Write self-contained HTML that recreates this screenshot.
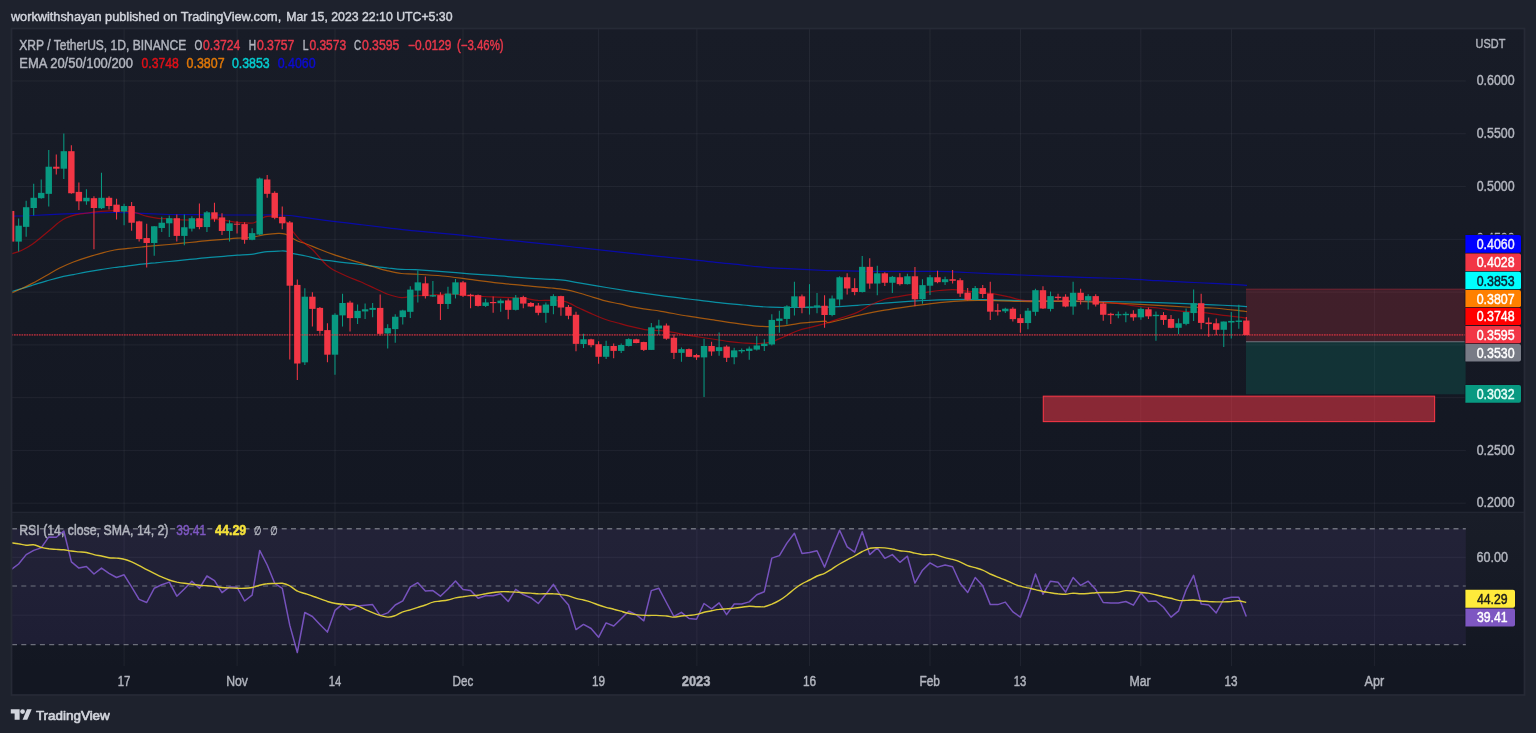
<!DOCTYPE html>
<html lang="en"><head><meta charset="utf-8"><title>XRP / TetherUS chart</title>
<style>html,body{margin:0;padding:0;background:#1e222d;overflow:hidden}svg text{white-space:pre}</style></head>
<body>
<svg width="1536" height="733" viewBox="0 0 1536 733" style="display:block;will-change:transform">
<defs>
<linearGradient id="g1" x1="0" y1="0" x2="0" y2="1"><stop offset="0" stop-color="#181c27"/><stop offset="1" stop-color="#131722"/></linearGradient>
<linearGradient id="g2" x1="0" y1="0" x2="0" y2="1"><stop offset="0" stop-color="#191d28"/><stop offset="1" stop-color="#131722"/></linearGradient>
<clipPath id="cpMain"><rect x="11.5" y="29" width="1454.3" height="483"/></clipPath>
<clipPath id="cpRsi"><rect x="11.5" y="513" width="1454.3" height="153"/></clipPath>
</defs>
<rect width="1536" height="733" fill="#1e222d"/>
<rect x="11.5" y="28.5" width="1513.0" height="483.70000000000005" fill="url(#g1)"/>
<rect x="11.5" y="512.2" width="1513.0" height="153.79999999999995" fill="url(#g2)"/>
<rect x="11.5" y="666.0" width="1513.0" height="29.0" fill="#131722"/>
<line x1="124.1" y1="28.5" x2="124.1" y2="666.0" stroke="#f0f3fa" stroke-opacity="0.058" stroke-width="1"/>
<line x1="237.1" y1="28.5" x2="237.1" y2="666.0" stroke="#f0f3fa" stroke-opacity="0.058" stroke-width="1"/>
<line x1="335.0" y1="28.5" x2="335.0" y2="666.0" stroke="#f0f3fa" stroke-opacity="0.058" stroke-width="1"/>
<line x1="463.0" y1="28.5" x2="463.0" y2="666.0" stroke="#f0f3fa" stroke-opacity="0.058" stroke-width="1"/>
<line x1="598.6" y1="28.5" x2="598.6" y2="666.0" stroke="#f0f3fa" stroke-opacity="0.058" stroke-width="1"/>
<line x1="696.9" y1="28.5" x2="696.9" y2="666.0" stroke="#f0f3fa" stroke-opacity="0.058" stroke-width="1"/>
<line x1="809.5" y1="28.5" x2="809.5" y2="666.0" stroke="#f0f3fa" stroke-opacity="0.058" stroke-width="1"/>
<line x1="930.0" y1="28.5" x2="930.0" y2="666.0" stroke="#f0f3fa" stroke-opacity="0.058" stroke-width="1"/>
<line x1="1020.5" y1="28.5" x2="1020.5" y2="666.0" stroke="#f0f3fa" stroke-opacity="0.058" stroke-width="1"/>
<line x1="1140.8" y1="28.5" x2="1140.8" y2="666.0" stroke="#f0f3fa" stroke-opacity="0.058" stroke-width="1"/>
<line x1="1231.5" y1="28.5" x2="1231.5" y2="666.0" stroke="#f0f3fa" stroke-opacity="0.058" stroke-width="1"/>
<line x1="1374.4" y1="28.5" x2="1374.4" y2="666.0" stroke="#f0f3fa" stroke-opacity="0.058" stroke-width="1"/>
<line x1="11.5" y1="80.97" x2="1465.8" y2="80.97" stroke="#f0f3fa" stroke-opacity="0.058" stroke-width="1"/>
<line x1="11.5" y1="133.75" x2="1465.8" y2="133.75" stroke="#f0f3fa" stroke-opacity="0.058" stroke-width="1"/>
<line x1="11.5" y1="186.53" x2="1465.8" y2="186.53" stroke="#f0f3fa" stroke-opacity="0.058" stroke-width="1"/>
<line x1="11.5" y1="239.31" x2="1465.8" y2="239.31" stroke="#f0f3fa" stroke-opacity="0.058" stroke-width="1"/>
<line x1="11.5" y1="292.09" x2="1465.8" y2="292.09" stroke="#f0f3fa" stroke-opacity="0.058" stroke-width="1"/>
<line x1="11.5" y1="344.87" x2="1465.8" y2="344.87" stroke="#f0f3fa" stroke-opacity="0.058" stroke-width="1"/>
<line x1="11.5" y1="397.65" x2="1465.8" y2="397.65" stroke="#f0f3fa" stroke-opacity="0.058" stroke-width="1"/>
<line x1="11.5" y1="450.43" x2="1465.8" y2="450.43" stroke="#f0f3fa" stroke-opacity="0.058" stroke-width="1"/>
<line x1="11.5" y1="503.21" x2="1465.8" y2="503.21" stroke="#f0f3fa" stroke-opacity="0.058" stroke-width="1"/>
<rect x="11.5" y="528.7" width="1454.3" height="115.89999999999998" fill="#7e57c2" fill-opacity="0.105"/>
<line x1="11.5" y1="557.3" x2="1465.8" y2="557.3" stroke="#f0f3fa" stroke-opacity="0.058" stroke-width="1"/>
<line x1="11.5" y1="615.2" x2="1465.8" y2="615.2" stroke="#f0f3fa" stroke-opacity="0.058" stroke-width="1"/>
<line x1="12.0" y1="528.7" x2="1465.8" y2="528.7" stroke="#9598a1" stroke-opacity="0.68" stroke-width="1.4" stroke-dasharray="5 4.3"/>
<line x1="12.0" y1="586.0" x2="1465.8" y2="586.0" stroke="#9598a1" stroke-opacity="0.45" stroke-width="1.4" stroke-dasharray="5 4.3"/>
<line x1="12.0" y1="644.6" x2="1465.8" y2="644.6" stroke="#9598a1" stroke-opacity="0.68" stroke-width="1.4" stroke-dasharray="5 4.3"/>
<line x1="11.5" y1="512.2" x2="1524.5" y2="512.2" stroke="#262a36" stroke-width="1.1"/>
<g clip-path="url(#cpMain)">
<rect x="1246.0" y="289.13" width="219.80" height="52.57" fill="#f23645" fill-opacity="0.2"/>
<rect x="1246.0" y="341.70" width="219.80" height="52.57" fill="#089981" fill-opacity="0.2"/>
<line x1="1246.0" y1="289.13" x2="1465.8" y2="289.13" stroke="#f23645" stroke-opacity="0.35" stroke-width="1"/>
<line x1="1246.0" y1="341.70" x2="1465.8" y2="341.70" stroke="#787b86" stroke-opacity="0.9" stroke-width="1.15"/>
<rect x="1043.3" y="396.2" width="391.3" height="25.4" fill="#f23645" fill-opacity="0.53" stroke="#f23645" stroke-width="1.1"/>
<path d="M13.2,216.1C16.4,216.0 24.6,215.9 32.3,215.5C40.1,215.2 50.6,214.6 59.7,214.2C68.8,213.8 77.9,213.4 87.0,213.1C96.1,212.8 105.3,212.5 114.4,212.5C123.5,212.6 132.6,213.0 141.7,213.4C150.8,213.7 159.9,214.2 169.1,214.5C178.2,214.7 187.3,214.6 196.4,214.7C205.5,214.8 214.6,215.0 223.8,215.0C232.9,215.0 242.0,215.0 251.1,215.0C260.2,215.0 272.1,214.9 278.4,215.0C284.8,215.1 284.8,215.1 289.4,215.5C293.9,216.0 298.5,216.8 305.8,217.7C313.1,218.7 324.0,220.1 333.1,221.3C342.2,222.4 351.4,223.5 360.5,224.6C369.6,225.7 378.7,226.8 387.8,227.9C396.9,228.9 406.0,230.0 415.1,230.9C424.2,231.8 433.2,232.5 442.3,233.4C451.4,234.2 460.6,235.1 469.7,236.1C478.8,237.1 487.9,238.1 497.0,239.1C506.1,240.1 515.3,240.9 524.4,241.8C533.5,242.7 542.6,243.6 551.7,244.6C560.8,245.5 569.9,246.6 579.1,247.6C588.2,248.6 597.3,249.6 606.4,250.6C615.5,251.6 624.6,252.6 633.8,253.6C642.9,254.6 652.0,255.6 661.1,256.6C670.2,257.6 679.3,258.4 688.4,259.3C697.6,260.3 706.7,261.4 715.8,262.3C724.9,263.3 736.3,264.3 743.1,265.1C750.0,265.8 752.2,266.3 756.8,266.7C761.4,267.2 763.6,267.4 770.5,267.8C777.3,268.2 788.7,268.7 797.8,269.2C806.9,269.6 819.8,270.3 825.2,270.5C830.5,270.8 824.6,270.5 830.0,270.6C835.4,270.7 848.2,271.0 857.3,271.1C866.5,271.3 875.6,271.4 884.7,271.4C893.8,271.5 902.9,271.4 912.0,271.4C921.1,271.4 930.3,271.2 939.4,271.4C948.5,271.6 957.6,272.1 966.7,272.5C975.8,272.9 984.9,273.5 994.1,273.9C1003.2,274.3 1012.3,274.6 1021.4,275.0C1030.5,275.3 1039.6,275.7 1048.8,276.1C1057.9,276.4 1067.0,276.8 1076.1,277.1C1085.2,277.5 1094.3,277.6 1103.4,278.0C1112.6,278.3 1121.7,278.6 1130.8,279.1C1139.9,279.5 1149.0,280.2 1158.1,280.7C1167.2,281.2 1176.4,281.6 1185.5,282.1C1194.6,282.5 1203.7,283.0 1212.8,283.4C1221.9,283.9 1234.5,284.5 1240.2,284.8C1245.9,285.1 1245.9,285.3 1247.0,285.4" fill="none" stroke="#0000ff" stroke-opacity="0.6" stroke-width="1.2" stroke-linejoin="round"/>
<path d="M11.8,291.6C13.4,291.1 18.0,289.6 21.4,288.6C24.8,287.5 28.2,286.5 32.3,285.3C36.4,284.0 41.5,282.5 46.0,281.2C50.6,279.9 55.1,278.4 59.7,277.3C64.2,276.2 68.8,275.5 73.4,274.6C77.9,273.7 82.5,272.7 87.0,271.9C91.6,271.1 96.1,270.4 100.7,269.7C105.3,269.0 109.8,268.1 114.4,267.5C118.9,266.9 123.5,266.4 128.0,265.9C132.6,265.3 137.2,264.7 141.7,264.2C146.3,263.7 150.8,263.3 155.4,262.9C159.9,262.4 164.5,261.9 169.1,261.5C173.6,261.0 178.2,260.6 182.7,260.1C187.3,259.7 191.8,259.2 196.4,258.8C201.0,258.3 205.5,257.8 210.1,257.4C214.6,257.0 219.2,256.7 223.8,256.3C228.3,255.9 232.9,255.5 237.4,255.2C242.0,254.9 246.5,254.9 251.1,254.4C255.7,253.8 260.2,252.5 264.8,251.9C269.3,251.4 275.0,251.2 278.4,251.1C281.9,251.0 283.0,250.7 285.3,251.1C287.6,251.5 288.7,252.5 292.1,253.3C295.5,254.1 301.2,255.0 305.8,256.0C310.3,257.0 314.9,258.4 319.5,259.3C324.0,260.2 328.6,260.6 333.1,261.2C337.7,261.8 342.2,262.3 346.8,262.9C351.4,263.4 355.9,263.9 360.5,264.5C365.0,265.1 369.6,265.8 374.1,266.4C378.7,267.0 383.3,267.5 387.8,268.0C392.4,268.5 396.9,269.1 401.5,269.4C406.0,269.7 408.3,269.3 415.1,269.7C421.9,270.1 433.2,271.0 442.3,271.6C451.4,272.3 460.6,273.1 469.7,273.8C478.8,274.5 487.9,275.1 497.0,275.7C506.1,276.4 515.3,277.3 524.4,277.9C533.5,278.5 544.9,278.9 551.7,279.3C558.6,279.7 560.8,279.8 565.4,280.4C569.9,281.0 572.2,281.7 579.1,282.9C585.9,284.0 597.3,286.0 606.4,287.5C615.5,289.0 624.6,290.5 633.8,291.9C642.9,293.2 652.0,294.5 661.1,295.7C670.2,296.9 679.3,297.9 688.4,299.0C697.6,300.1 706.7,301.3 715.8,302.3C724.9,303.3 736.3,304.3 743.1,305.0C750.0,305.7 752.2,306.0 756.8,306.4C761.4,306.7 765.9,307.0 770.5,307.2C775.0,307.4 779.6,307.4 784.1,307.5C788.7,307.5 793.3,307.5 797.8,307.5C802.4,307.4 806.9,307.3 811.5,307.2C816.0,307.1 822.1,307.0 825.2,306.9C828.2,306.9 824.6,307.2 830.0,307.0C835.4,306.7 848.2,306.0 857.3,305.3C866.5,304.7 875.6,303.8 884.7,303.1C893.8,302.4 902.9,301.8 912.0,301.2C921.1,300.7 930.3,300.2 939.4,299.8C948.5,299.5 957.6,299.3 966.7,299.3C975.8,299.3 984.9,299.6 994.1,299.8C1003.2,300.1 1012.3,300.5 1021.4,300.7C1030.5,300.8 1039.6,300.8 1048.8,300.9C1057.9,301.0 1067.0,301.1 1076.1,301.2C1085.2,301.3 1094.3,301.3 1103.4,301.5C1112.6,301.6 1121.7,301.8 1130.8,302.0C1139.9,302.2 1149.0,302.3 1158.1,302.6C1167.2,302.9 1176.4,303.3 1185.5,303.7C1194.6,304.0 1203.7,304.4 1212.8,304.8C1221.9,305.2 1234.5,305.8 1240.2,306.1C1245.9,306.5 1245.9,306.6 1247.0,306.7" fill="none" stroke="#00e5ff" stroke-opacity="0.58" stroke-width="1.2" stroke-linejoin="round"/>
<path d="M11.8,292.9C13.4,292.2 18.0,290.4 21.4,288.8C24.8,287.2 28.2,285.5 32.3,283.4C36.4,281.2 41.5,278.3 46.0,275.7C50.6,273.2 55.1,270.3 59.7,268.0C64.2,265.8 68.8,263.8 73.4,262.0C77.9,260.3 82.5,258.8 87.0,257.4C91.6,255.9 96.1,254.5 100.7,253.3C105.3,252.1 109.8,250.8 114.4,250.0C118.9,249.2 123.5,248.9 128.0,248.4C132.6,247.9 137.2,247.4 141.7,247.0C146.3,246.5 150.8,246.0 155.4,245.6C159.9,245.2 164.5,244.9 169.1,244.5C173.6,244.1 178.2,243.6 182.7,243.2C187.3,242.7 191.8,242.3 196.4,241.8C201.0,241.3 205.5,240.8 210.1,240.4C214.6,240.0 219.2,239.7 223.8,239.3C228.3,239.0 232.9,238.6 237.4,238.2C242.0,237.9 246.5,238.0 251.1,237.4C255.7,236.8 260.2,235.4 264.8,234.7C269.3,234.0 275.0,233.4 278.4,233.3C281.9,233.2 283.0,233.4 285.3,234.1C287.6,234.9 289.8,236.7 292.1,238.0C294.4,239.2 296.7,240.6 298.9,241.5C301.2,242.5 302.4,242.4 305.8,243.7C309.2,245.0 314.9,247.4 319.5,249.2C324.0,251.0 328.6,252.8 333.1,254.4C337.7,256.0 342.2,257.3 346.8,258.8C351.4,260.2 355.9,261.5 360.5,262.9C365.0,264.2 369.6,265.6 374.1,267.0C378.7,268.3 383.3,269.7 387.8,270.8C392.4,271.9 396.9,273.0 401.5,273.5C406.0,274.1 408.3,273.7 415.1,274.1C421.9,274.5 433.2,275.1 442.3,276.0C451.4,276.9 460.6,278.2 469.7,279.3C478.8,280.4 487.9,281.8 497.0,282.9C506.1,283.9 515.3,284.7 524.4,285.6C533.5,286.5 544.9,287.4 551.7,288.0C558.6,288.7 560.8,288.9 565.4,289.7C569.9,290.5 574.5,291.7 579.1,293.0C583.6,294.2 588.2,295.7 592.7,297.1C597.3,298.4 601.8,300.0 606.4,301.2C611.0,302.3 615.5,302.9 620.1,303.9C624.6,304.9 629.2,306.3 633.8,307.2C638.3,308.1 642.9,308.7 647.4,309.4C652.0,310.1 654.3,310.1 661.1,311.3C667.9,312.4 679.3,314.7 688.4,316.2C697.6,317.7 706.7,318.9 715.8,320.3C724.9,321.7 736.3,323.5 743.1,324.4C750.0,325.4 752.2,325.7 756.8,326.1C761.4,326.4 765.9,326.6 770.5,326.6C775.0,326.6 779.6,326.3 784.1,325.8C788.7,325.3 793.3,324.2 797.8,323.6C802.4,323.0 806.9,322.6 811.5,322.2C816.0,321.8 822.1,321.1 825.2,321.1C828.2,321.2 824.6,323.4 830.0,322.5C835.4,321.6 848.2,317.8 857.3,315.7C866.5,313.7 875.6,311.8 884.7,310.2C893.8,308.6 902.9,307.4 912.0,306.1C921.1,304.9 930.3,303.5 939.4,302.6C948.5,301.7 957.6,301.0 966.7,300.7C975.8,300.3 984.9,300.5 994.1,300.7C1003.2,300.8 1012.3,301.3 1021.4,301.5C1030.5,301.6 1039.6,301.5 1048.8,301.5C1057.9,301.5 1067.0,301.3 1076.1,301.5C1085.2,301.7 1094.3,302.2 1103.4,302.6C1112.6,303.0 1121.7,303.5 1130.8,303.9C1139.9,304.4 1149.0,304.8 1158.1,305.3C1167.2,305.8 1176.4,306.5 1185.5,307.0C1194.6,307.4 1203.7,307.4 1212.8,308.0C1221.9,308.7 1234.5,310.2 1240.2,310.8C1245.9,311.4 1245.9,311.5 1247.0,311.6" fill="none" stroke="#ff8000" stroke-opacity="0.6" stroke-width="1.2" stroke-linejoin="round"/>
<path d="M11.8,253.8C13.4,253.3 18.0,252.1 21.4,250.5C24.8,249.0 28.2,247.1 32.3,244.3C36.4,241.4 41.5,237.1 46.0,233.3C50.6,229.6 56.3,224.4 59.7,221.8C63.1,219.2 63.8,218.9 66.5,217.7C69.3,216.5 72.7,215.5 76.1,214.7C79.5,214.0 82.9,213.6 87.0,213.1C91.1,212.5 96.1,211.9 100.7,211.4C105.3,211.0 109.8,210.6 114.4,210.6C118.9,210.6 124.4,211.1 128.0,211.4C131.7,211.8 133.1,212.0 136.2,212.8C139.4,213.6 143.5,215.5 147.2,216.4C150.8,217.3 154.5,217.9 158.1,218.3C161.8,218.7 165.0,218.6 169.1,218.8C173.2,219.1 178.2,219.7 182.7,219.9C187.3,220.1 191.8,220.3 196.4,220.2C201.0,220.1 205.5,219.1 210.1,219.1C214.6,219.1 219.2,219.6 223.8,220.2C228.3,220.7 232.9,221.9 237.4,222.4C242.0,222.9 247.9,223.3 251.1,223.2C254.3,223.1 254.3,222.6 256.6,221.6C258.8,220.5 262.3,217.8 264.8,216.9C267.3,216.0 269.3,216.0 271.6,216.1C273.9,216.2 276.2,216.9 278.4,217.7C280.7,218.6 283.0,218.9 285.3,221.0C287.6,223.2 289.8,227.6 292.1,230.6C294.4,233.5 296.7,236.5 298.9,238.8C301.2,241.1 303.5,242.4 305.8,244.3C308.1,246.1 310.3,247.5 312.6,249.7C314.9,251.9 317.2,254.9 319.5,257.4C321.7,259.9 324.0,262.7 326.3,264.8C328.6,266.8 329.7,267.8 333.1,269.7C336.5,271.6 342.2,274.2 346.8,276.2C351.4,278.3 355.9,279.8 360.5,281.7C365.0,283.7 369.6,285.9 374.1,288.0C378.7,290.1 383.3,292.7 387.8,294.3C392.4,295.9 396.9,297.3 401.5,297.6C406.0,297.8 410.5,296.2 415.1,295.8C419.6,295.4 424.1,295.4 428.7,295.2C433.2,294.9 437.8,294.5 442.3,294.3C446.9,294.2 451.5,294.1 456.0,294.3C460.6,294.6 465.1,295.3 469.7,295.7C474.2,296.1 478.8,296.3 483.4,296.5C487.9,296.8 492.5,296.9 497.0,297.1C501.6,297.3 506.1,297.4 510.7,297.6C515.3,297.8 519.8,298.0 524.4,298.4C528.9,298.9 533.5,300.0 538.0,300.4C542.6,300.7 547.2,300.1 551.7,300.4C556.3,300.6 560.8,300.4 565.4,301.7C569.9,303.0 574.5,305.9 579.1,308.0C583.6,310.1 588.2,312.3 592.7,314.3C597.3,316.3 601.8,318.2 606.4,319.8C611.0,321.3 615.5,322.4 620.1,323.6C624.6,324.8 629.2,326.1 633.8,327.1C638.3,328.2 642.9,329.3 647.4,329.9C652.0,330.5 656.5,330.2 661.1,330.7C665.7,331.2 670.2,331.8 674.8,332.6C679.3,333.4 683.9,334.5 688.4,335.4C693.0,336.2 697.6,336.9 702.1,337.5C706.7,338.2 711.2,338.8 715.8,339.5C720.3,340.1 724.9,341.0 729.5,341.6C734.0,342.2 738.6,342.7 743.1,343.0C747.7,343.3 752.2,343.7 756.8,343.6C761.4,343.4 765.9,343.3 770.5,342.2C775.0,341.0 779.6,338.6 784.1,336.7C788.7,334.8 793.3,332.3 797.8,330.7C802.4,329.1 806.9,328.3 811.5,327.1C816.0,326.0 822.1,324.5 825.2,323.6C828.2,322.7 826.9,322.8 830.0,321.7C833.1,320.6 839.1,318.6 843.7,317.1C848.2,315.5 852.8,314.5 857.3,312.4C861.9,310.4 866.5,307.0 871.0,304.8C875.6,302.6 880.1,300.7 884.7,299.3C889.2,297.9 893.8,297.4 898.4,296.6C902.9,295.7 907.5,295.1 912.0,294.4C916.6,293.7 921.1,293.1 925.7,292.5C930.3,291.8 934.8,291.0 939.4,290.5C943.9,290.1 948.5,289.6 953.0,289.7C957.6,289.8 962.2,290.6 966.7,291.1C971.3,291.5 975.8,292.0 980.4,292.5C984.9,292.9 989.5,293.1 994.1,293.8C998.6,294.5 1003.2,295.5 1007.7,296.6C1012.3,297.6 1016.8,299.4 1021.4,300.1C1026.0,300.8 1030.5,300.6 1035.1,300.7C1039.6,300.8 1044.2,300.7 1048.8,300.7C1053.3,300.7 1057.9,300.7 1062.4,300.7C1067.0,300.7 1071.5,300.6 1076.1,300.7C1080.7,300.8 1085.2,301.0 1089.8,301.2C1094.3,301.4 1098.9,301.7 1103.4,302.0C1108.0,302.4 1112.6,302.9 1117.1,303.4C1121.7,303.9 1126.2,304.7 1130.8,305.3C1135.3,305.9 1139.9,306.5 1144.5,307.0C1149.0,307.4 1153.6,307.5 1158.1,308.0C1162.7,308.6 1167.2,309.6 1171.8,310.2C1176.4,310.8 1180.9,311.3 1185.5,311.6C1190.0,311.9 1194.6,311.8 1199.1,312.1C1203.7,312.5 1208.3,313.2 1212.8,313.8C1217.4,314.4 1221.9,315.2 1226.5,315.7C1231.0,316.2 1236.7,316.6 1240.2,317.1C1243.6,317.5 1245.9,318.2 1247.0,318.4" fill="none" stroke="#ff0000" stroke-opacity="0.52" stroke-width="1.2" stroke-linejoin="round"/>
<line x1="11.10" y1="208.20" x2="11.10" y2="245.94" stroke="#f23645" stroke-width="1.05"/>
<rect x="7.90" y="210.95" width="6.4" height="30.66" fill="#f23645"/>
<line x1="18.63" y1="218.42" x2="18.63" y2="251.44" stroke="#089981" stroke-width="1.05"/>
<rect x="15.43" y="225.69" width="6.4" height="15.92" fill="#089981"/>
<line x1="26.16" y1="200.73" x2="26.16" y2="236.70" stroke="#089981" stroke-width="1.05"/>
<rect x="22.96" y="207.21" width="6.4" height="19.66" fill="#089981"/>
<line x1="33.70" y1="183.63" x2="33.70" y2="215.47" stroke="#089981" stroke-width="1.05"/>
<rect x="30.50" y="197.78" width="6.4" height="10.22" fill="#089981"/>
<line x1="41.23" y1="179.50" x2="41.23" y2="198.76" stroke="#089981" stroke-width="1.05"/>
<rect x="38.03" y="192.86" width="6.4" height="5.31" fill="#089981"/>
<line x1="48.76" y1="150.01" x2="48.76" y2="206.62" stroke="#089981" stroke-width="1.05"/>
<rect x="45.56" y="166.72" width="6.4" height="27.13" fill="#089981"/>
<line x1="56.29" y1="154.54" x2="56.29" y2="174.58" stroke="#f23645" stroke-width="1.05"/>
<rect x="53.09" y="166.72" width="6.4" height="1.97" fill="#f23645"/>
<line x1="63.82" y1="133.50" x2="63.82" y2="179.11" stroke="#089981" stroke-width="1.05"/>
<rect x="60.62" y="151.19" width="6.4" height="17.49" fill="#089981"/>
<line x1="71.36" y1="145.30" x2="71.36" y2="193.85" stroke="#f23645" stroke-width="1.05"/>
<rect x="68.16" y="151.19" width="6.4" height="42.06" fill="#f23645"/>
<line x1="78.89" y1="182.45" x2="78.89" y2="209.97" stroke="#f23645" stroke-width="1.05"/>
<rect x="75.69" y="191.88" width="6.4" height="9.43" fill="#f23645"/>
<line x1="86.42" y1="189.33" x2="86.42" y2="204.66" stroke="#089981" stroke-width="1.05"/>
<rect x="83.22" y="197.78" width="6.4" height="3.54" fill="#089981"/>
<line x1="93.95" y1="196.21" x2="93.95" y2="249.28" stroke="#f23645" stroke-width="1.05"/>
<rect x="90.75" y="198.17" width="6.4" height="9.83" fill="#f23645"/>
<line x1="101.48" y1="172.82" x2="101.48" y2="208.98" stroke="#089981" stroke-width="1.05"/>
<rect x="98.28" y="197.78" width="6.4" height="10.42" fill="#089981"/>
<line x1="109.02" y1="196.21" x2="109.02" y2="209.57" stroke="#f23645" stroke-width="1.05"/>
<rect x="105.82" y="197.78" width="6.4" height="8.26" fill="#f23645"/>
<line x1="116.55" y1="198.76" x2="116.55" y2="219.40" stroke="#f23645" stroke-width="1.05"/>
<rect x="113.35" y="204.66" width="6.4" height="7.27" fill="#f23645"/>
<line x1="124.08" y1="203.68" x2="124.08" y2="225.30" stroke="#089981" stroke-width="1.05"/>
<rect x="120.88" y="206.03" width="6.4" height="5.50" fill="#089981"/>
<line x1="131.61" y1="202.10" x2="131.61" y2="230.80" stroke="#f23645" stroke-width="1.05"/>
<rect x="128.41" y="206.03" width="6.4" height="16.71" fill="#f23645"/>
<line x1="139.14" y1="220.78" x2="139.14" y2="241.61" stroke="#f23645" stroke-width="1.05"/>
<rect x="135.94" y="221.37" width="6.4" height="17.69" fill="#f23645"/>
<line x1="146.68" y1="223.72" x2="146.68" y2="267.56" stroke="#f23645" stroke-width="1.05"/>
<rect x="143.48" y="238.07" width="6.4" height="4.91" fill="#f23645"/>
<line x1="154.21" y1="225.89" x2="154.21" y2="255.76" stroke="#089981" stroke-width="1.05"/>
<rect x="151.01" y="226.28" width="6.4" height="16.71" fill="#089981"/>
<line x1="161.74" y1="216.83" x2="161.74" y2="231.97" stroke="#089981" stroke-width="1.05"/>
<rect x="158.54" y="222.73" width="6.4" height="5.31" fill="#089981"/>
<line x1="169.27" y1="215.45" x2="169.27" y2="237.08" stroke="#089981" stroke-width="1.05"/>
<rect x="166.07" y="218.21" width="6.4" height="5.11" fill="#089981"/>
<line x1="176.80" y1="214.47" x2="176.80" y2="241.40" stroke="#f23645" stroke-width="1.05"/>
<rect x="173.60" y="218.21" width="6.4" height="17.69" fill="#f23645"/>
<line x1="184.34" y1="214.47" x2="184.34" y2="245.33" stroke="#089981" stroke-width="1.05"/>
<rect x="181.14" y="227.25" width="6.4" height="8.65" fill="#089981"/>
<line x1="191.87" y1="216.24" x2="191.87" y2="231.57" stroke="#089981" stroke-width="1.05"/>
<rect x="188.67" y="218.21" width="6.4" height="10.42" fill="#089981"/>
<line x1="199.40" y1="203.46" x2="199.40" y2="229.21" stroke="#f23645" stroke-width="1.05"/>
<rect x="196.20" y="218.21" width="6.4" height="8.85" fill="#f23645"/>
<line x1="206.93" y1="210.93" x2="206.93" y2="231.97" stroke="#089981" stroke-width="1.05"/>
<rect x="203.73" y="212.31" width="6.4" height="14.74" fill="#089981"/>
<line x1="214.46" y1="202.68" x2="214.46" y2="221.74" stroke="#f23645" stroke-width="1.05"/>
<rect x="211.26" y="212.31" width="6.4" height="6.49" fill="#f23645"/>
<line x1="222.00" y1="213.29" x2="222.00" y2="234.91" stroke="#f23645" stroke-width="1.05"/>
<rect x="218.80" y="217.42" width="6.4" height="13.56" fill="#f23645"/>
<line x1="229.53" y1="220.37" x2="229.53" y2="241.40" stroke="#089981" stroke-width="1.05"/>
<rect x="226.33" y="223.32" width="6.4" height="7.67" fill="#089981"/>
<line x1="237.06" y1="221.35" x2="237.06" y2="233.54" stroke="#f23645" stroke-width="1.05"/>
<rect x="233.86" y="223.70" width="6.4" height="1.00" fill="#f23645"/>
<line x1="244.59" y1="222.14" x2="244.59" y2="243.76" stroke="#f23645" stroke-width="1.05"/>
<rect x="241.39" y="224.10" width="6.4" height="15.72" fill="#f23645"/>
<line x1="252.12" y1="228.23" x2="252.12" y2="240.22" stroke="#089981" stroke-width="1.05"/>
<rect x="248.92" y="233.14" width="6.4" height="6.68" fill="#089981"/>
<line x1="259.66" y1="177.52" x2="259.66" y2="235.11" stroke="#089981" stroke-width="1.05"/>
<rect x="256.46" y="178.50" width="6.4" height="56.02" fill="#089981"/>
<line x1="267.19" y1="174.96" x2="267.19" y2="197.76" stroke="#f23645" stroke-width="1.05"/>
<rect x="263.99" y="179.48" width="6.4" height="14.35" fill="#f23645"/>
<line x1="274.72" y1="191.28" x2="274.72" y2="219.19" stroke="#f23645" stroke-width="1.05"/>
<rect x="271.52" y="192.85" width="6.4" height="24.96" fill="#f23645"/>
<line x1="282.25" y1="206.41" x2="282.25" y2="229.21" stroke="#f23645" stroke-width="1.05"/>
<rect x="279.05" y="216.83" width="6.4" height="6.49" fill="#f23645"/>
<line x1="289.78" y1="221.02" x2="289.78" y2="359.59" stroke="#f23645" stroke-width="1.05"/>
<rect x="286.58" y="222.40" width="6.4" height="63.29" fill="#f23645"/>
<line x1="297.32" y1="279.40" x2="297.32" y2="380.04" stroke="#f23645" stroke-width="1.05"/>
<rect x="294.12" y="284.90" width="6.4" height="78.62" fill="#f23645"/>
<line x1="304.85" y1="288.24" x2="304.85" y2="364.90" stroke="#089981" stroke-width="1.05"/>
<rect x="301.65" y="296.70" width="6.4" height="65.65" fill="#089981"/>
<line x1="312.38" y1="292.17" x2="312.38" y2="326.57" stroke="#f23645" stroke-width="1.05"/>
<rect x="309.18" y="296.70" width="6.4" height="12.19" fill="#f23645"/>
<line x1="319.91" y1="306.92" x2="319.91" y2="333.85" stroke="#f23645" stroke-width="1.05"/>
<rect x="316.71" y="307.90" width="6.4" height="23.00" fill="#f23645"/>
<line x1="327.44" y1="323.23" x2="327.44" y2="362.35" stroke="#f23645" stroke-width="1.05"/>
<rect x="324.24" y="330.11" width="6.4" height="24.57" fill="#f23645"/>
<line x1="334.98" y1="313.21" x2="334.98" y2="374.73" stroke="#089981" stroke-width="1.05"/>
<rect x="331.78" y="314.78" width="6.4" height="39.90" fill="#089981"/>
<line x1="342.51" y1="293.75" x2="342.51" y2="326.57" stroke="#089981" stroke-width="1.05"/>
<rect x="339.31" y="302.99" width="6.4" height="12.38" fill="#089981"/>
<line x1="350.04" y1="300.63" x2="350.04" y2="331.49" stroke="#f23645" stroke-width="1.05"/>
<rect x="346.84" y="302.59" width="6.4" height="15.53" fill="#f23645"/>
<line x1="357.57" y1="304.56" x2="357.57" y2="324.02" stroke="#089981" stroke-width="1.05"/>
<rect x="354.37" y="310.85" width="6.4" height="7.27" fill="#089981"/>
<line x1="365.10" y1="303.57" x2="365.10" y2="319.10" stroke="#089981" stroke-width="1.05"/>
<rect x="361.90" y="309.28" width="6.4" height="2.16" fill="#089981"/>
<line x1="372.64" y1="302.99" x2="372.64" y2="317.33" stroke="#089981" stroke-width="1.05"/>
<rect x="369.44" y="307.90" width="6.4" height="1.97" fill="#089981"/>
<line x1="380.17" y1="294.53" x2="380.17" y2="335.42" stroke="#f23645" stroke-width="1.05"/>
<rect x="376.97" y="307.90" width="6.4" height="25.95" fill="#f23645"/>
<line x1="387.70" y1="324.21" x2="387.70" y2="348.59" stroke="#089981" stroke-width="1.05"/>
<rect x="384.50" y="328.14" width="6.4" height="5.31" fill="#089981"/>
<line x1="395.23" y1="314.19" x2="395.23" y2="342.69" stroke="#089981" stroke-width="1.05"/>
<rect x="392.03" y="316.74" width="6.4" height="12.38" fill="#089981"/>
<line x1="402.76" y1="309.86" x2="402.76" y2="324.61" stroke="#089981" stroke-width="1.05"/>
<rect x="399.56" y="310.45" width="6.4" height="6.68" fill="#089981"/>
<line x1="410.30" y1="286.28" x2="410.30" y2="318.12" stroke="#089981" stroke-width="1.05"/>
<rect x="407.10" y="289.62" width="6.4" height="22.21" fill="#089981"/>
<line x1="417.83" y1="270.55" x2="417.83" y2="302.59" stroke="#089981" stroke-width="1.05"/>
<rect x="414.63" y="282.35" width="6.4" height="8.26" fill="#089981"/>
<line x1="425.36" y1="276.45" x2="425.36" y2="298.46" stroke="#f23645" stroke-width="1.05"/>
<rect x="422.16" y="283.33" width="6.4" height="12.78" fill="#f23645"/>
<line x1="432.89" y1="280.97" x2="432.89" y2="297.09" stroke="#089981" stroke-width="1.05"/>
<rect x="429.69" y="295.12" width="6.4" height="1.38" fill="#089981"/>
<line x1="440.42" y1="292.17" x2="440.42" y2="320.09" stroke="#f23645" stroke-width="1.05"/>
<rect x="437.22" y="295.12" width="6.4" height="8.85" fill="#f23645"/>
<line x1="447.96" y1="286.87" x2="447.96" y2="308.88" stroke="#089981" stroke-width="1.05"/>
<rect x="444.76" y="293.55" width="6.4" height="10.42" fill="#089981"/>
<line x1="455.49" y1="279.00" x2="455.49" y2="298.46" stroke="#089981" stroke-width="1.05"/>
<rect x="452.29" y="282.35" width="6.4" height="12.19" fill="#089981"/>
<line x1="463.02" y1="280.97" x2="463.02" y2="297.09" stroke="#f23645" stroke-width="1.05"/>
<rect x="459.82" y="282.35" width="6.4" height="13.37" fill="#f23645"/>
<line x1="470.55" y1="293.75" x2="470.55" y2="308.29" stroke="#f23645" stroke-width="1.05"/>
<rect x="467.35" y="294.73" width="6.4" height="1.38" fill="#f23645"/>
<line x1="478.08" y1="294.53" x2="478.08" y2="306.52" stroke="#f23645" stroke-width="1.05"/>
<rect x="474.88" y="295.12" width="6.4" height="10.81" fill="#f23645"/>
<line x1="485.62" y1="298.66" x2="485.62" y2="306.92" stroke="#089981" stroke-width="1.05"/>
<rect x="482.42" y="302.40" width="6.4" height="3.54" fill="#089981"/>
<line x1="493.15" y1="296.50" x2="493.15" y2="312.81" stroke="#f23645" stroke-width="1.05"/>
<rect x="489.95" y="302.00" width="6.4" height="1.18" fill="#f23645"/>
<line x1="500.68" y1="298.66" x2="500.68" y2="311.83" stroke="#089981" stroke-width="1.05"/>
<rect x="497.48" y="300.63" width="6.4" height="2.56" fill="#089981"/>
<line x1="508.21" y1="298.46" x2="508.21" y2="319.30" stroke="#f23645" stroke-width="1.05"/>
<rect x="505.01" y="300.43" width="6.4" height="9.43" fill="#f23645"/>
<line x1="515.74" y1="295.12" x2="515.74" y2="310.45" stroke="#089981" stroke-width="1.05"/>
<rect x="512.54" y="297.68" width="6.4" height="12.19" fill="#089981"/>
<line x1="523.28" y1="295.71" x2="523.28" y2="308.29" stroke="#f23645" stroke-width="1.05"/>
<rect x="520.08" y="297.09" width="6.4" height="6.49" fill="#f23645"/>
<line x1="530.81" y1="302.00" x2="530.81" y2="306.92" stroke="#f23645" stroke-width="1.05"/>
<rect x="527.61" y="302.99" width="6.4" height="3.54" fill="#f23645"/>
<line x1="538.34" y1="302.99" x2="538.34" y2="315.17" stroke="#f23645" stroke-width="1.05"/>
<rect x="535.14" y="305.54" width="6.4" height="7.27" fill="#f23645"/>
<line x1="545.87" y1="302.40" x2="545.87" y2="322.64" stroke="#089981" stroke-width="1.05"/>
<rect x="542.67" y="304.56" width="6.4" height="8.26" fill="#089981"/>
<line x1="553.40" y1="294.14" x2="553.40" y2="314.19" stroke="#089981" stroke-width="1.05"/>
<rect x="550.20" y="296.11" width="6.4" height="9.83" fill="#089981"/>
<line x1="560.94" y1="295.71" x2="560.94" y2="315.76" stroke="#f23645" stroke-width="1.05"/>
<rect x="557.74" y="296.11" width="6.4" height="11.40" fill="#f23645"/>
<line x1="568.47" y1="304.95" x2="568.47" y2="319.30" stroke="#f23645" stroke-width="1.05"/>
<rect x="565.27" y="306.92" width="6.4" height="8.85" fill="#f23645"/>
<line x1="576.00" y1="311.83" x2="576.00" y2="351.14" stroke="#f23645" stroke-width="1.05"/>
<rect x="572.80" y="314.78" width="6.4" height="29.09" fill="#f23645"/>
<line x1="583.53" y1="333.80" x2="583.53" y2="347.95" stroke="#089981" stroke-width="1.05"/>
<rect x="580.33" y="339.30" width="6.4" height="4.72" fill="#089981"/>
<line x1="591.06" y1="338.71" x2="591.06" y2="347.16" stroke="#f23645" stroke-width="1.05"/>
<rect x="587.86" y="339.30" width="6.4" height="5.90" fill="#f23645"/>
<line x1="598.60" y1="341.27" x2="598.60" y2="363.67" stroke="#f23645" stroke-width="1.05"/>
<rect x="595.40" y="344.21" width="6.4" height="12.58" fill="#f23645"/>
<line x1="606.13" y1="340.68" x2="606.13" y2="358.96" stroke="#089981" stroke-width="1.05"/>
<rect x="602.93" y="345.98" width="6.4" height="10.81" fill="#089981"/>
<line x1="613.66" y1="343.62" x2="613.66" y2="358.37" stroke="#f23645" stroke-width="1.05"/>
<rect x="610.46" y="345.98" width="6.4" height="4.91" fill="#f23645"/>
<line x1="621.19" y1="343.62" x2="621.19" y2="353.06" stroke="#089981" stroke-width="1.05"/>
<rect x="617.99" y="345.00" width="6.4" height="5.90" fill="#089981"/>
<line x1="628.72" y1="338.32" x2="628.72" y2="346.57" stroke="#089981" stroke-width="1.05"/>
<rect x="625.52" y="339.10" width="6.4" height="6.88" fill="#089981"/>
<line x1="636.26" y1="338.71" x2="636.26" y2="343.23" stroke="#f23645" stroke-width="1.05"/>
<rect x="633.06" y="339.30" width="6.4" height="3.73" fill="#f23645"/>
<line x1="643.79" y1="341.66" x2="643.79" y2="350.90" stroke="#f23645" stroke-width="1.05"/>
<rect x="640.59" y="342.05" width="6.4" height="7.86" fill="#f23645"/>
<line x1="651.32" y1="322.99" x2="651.32" y2="350.11" stroke="#089981" stroke-width="1.05"/>
<rect x="648.12" y="327.31" width="6.4" height="22.60" fill="#089981"/>
<line x1="658.85" y1="319.64" x2="658.85" y2="334.78" stroke="#089981" stroke-width="1.05"/>
<rect x="655.65" y="325.54" width="6.4" height="2.95" fill="#089981"/>
<line x1="666.38" y1="323.57" x2="666.38" y2="339.69" stroke="#f23645" stroke-width="1.05"/>
<rect x="663.18" y="325.54" width="6.4" height="13.17" fill="#f23645"/>
<line x1="673.92" y1="334.19" x2="673.92" y2="358.96" stroke="#f23645" stroke-width="1.05"/>
<rect x="670.72" y="337.73" width="6.4" height="15.14" fill="#f23645"/>
<line x1="681.45" y1="347.56" x2="681.45" y2="361.71" stroke="#089981" stroke-width="1.05"/>
<rect x="678.25" y="349.13" width="6.4" height="3.73" fill="#089981"/>
<line x1="688.98" y1="348.54" x2="688.98" y2="356.99" stroke="#f23645" stroke-width="1.05"/>
<rect x="685.78" y="349.13" width="6.4" height="7.67" fill="#f23645"/>
<line x1="696.51" y1="353.85" x2="696.51" y2="359.94" stroke="#f23645" stroke-width="1.05"/>
<rect x="693.31" y="355.02" width="6.4" height="2.36" fill="#f23645"/>
<line x1="704.04" y1="338.71" x2="704.04" y2="397.09" stroke="#089981" stroke-width="1.05"/>
<rect x="700.84" y="345.98" width="6.4" height="11.40" fill="#089981"/>
<line x1="711.58" y1="341.66" x2="711.58" y2="355.81" stroke="#f23645" stroke-width="1.05"/>
<rect x="708.38" y="345.98" width="6.4" height="5.50" fill="#f23645"/>
<line x1="719.11" y1="332.42" x2="719.11" y2="355.81" stroke="#089981" stroke-width="1.05"/>
<rect x="715.91" y="347.16" width="6.4" height="3.93" fill="#089981"/>
<line x1="726.64" y1="345.20" x2="726.64" y2="361.90" stroke="#f23645" stroke-width="1.05"/>
<rect x="723.44" y="346.57" width="6.4" height="11.20" fill="#f23645"/>
<line x1="734.17" y1="347.63" x2="734.17" y2="364.14" stroke="#089981" stroke-width="1.05"/>
<rect x="730.97" y="350.38" width="6.4" height="6.88" fill="#089981"/>
<line x1="741.70" y1="348.42" x2="741.70" y2="353.33" stroke="#089981" stroke-width="1.05"/>
<rect x="738.50" y="349.99" width="6.4" height="1.38" fill="#089981"/>
<line x1="749.24" y1="346.45" x2="749.24" y2="359.82" stroke="#089981" stroke-width="1.05"/>
<rect x="746.04" y="348.61" width="6.4" height="2.36" fill="#089981"/>
<line x1="756.77" y1="336.23" x2="756.77" y2="350.38" stroke="#089981" stroke-width="1.05"/>
<rect x="753.57" y="345.47" width="6.4" height="4.13" fill="#089981"/>
<line x1="764.30" y1="339.18" x2="764.30" y2="350.97" stroke="#089981" stroke-width="1.05"/>
<rect x="761.10" y="343.70" width="6.4" height="2.36" fill="#089981"/>
<line x1="771.83" y1="314.21" x2="771.83" y2="345.47" stroke="#089981" stroke-width="1.05"/>
<rect x="768.63" y="319.91" width="6.4" height="24.57" fill="#089981"/>
<line x1="779.36" y1="310.68" x2="779.36" y2="332.69" stroke="#089981" stroke-width="1.05"/>
<rect x="776.16" y="318.54" width="6.4" height="2.36" fill="#089981"/>
<line x1="786.90" y1="305.17" x2="786.90" y2="324.43" stroke="#089981" stroke-width="1.05"/>
<rect x="783.70" y="306.35" width="6.4" height="12.58" fill="#089981"/>
<line x1="794.43" y1="281.78" x2="794.43" y2="315.59" stroke="#089981" stroke-width="1.05"/>
<rect x="791.23" y="296.33" width="6.4" height="11.01" fill="#089981"/>
<line x1="801.96" y1="294.56" x2="801.96" y2="313.23" stroke="#f23645" stroke-width="1.05"/>
<rect x="798.76" y="296.33" width="6.4" height="11.40" fill="#f23645"/>
<line x1="809.49" y1="284.14" x2="809.49" y2="314.61" stroke="#089981" stroke-width="1.05"/>
<rect x="806.29" y="306.74" width="6.4" height="1.38" fill="#089981"/>
<line x1="817.02" y1="292.99" x2="817.02" y2="313.23" stroke="#089981" stroke-width="1.05"/>
<rect x="813.82" y="305.37" width="6.4" height="1.57" fill="#089981"/>
<line x1="824.56" y1="295.34" x2="824.56" y2="327.78" stroke="#f23645" stroke-width="1.05"/>
<rect x="821.36" y="305.76" width="6.4" height="9.24" fill="#f23645"/>
<line x1="832.09" y1="295.54" x2="832.09" y2="316.18" stroke="#089981" stroke-width="1.05"/>
<rect x="828.89" y="298.49" width="6.4" height="16.51" fill="#089981"/>
<line x1="839.62" y1="276.28" x2="839.62" y2="305.76" stroke="#089981" stroke-width="1.05"/>
<rect x="836.42" y="277.26" width="6.4" height="22.21" fill="#089981"/>
<line x1="847.15" y1="273.33" x2="847.15" y2="294.56" stroke="#f23645" stroke-width="1.05"/>
<rect x="843.95" y="277.26" width="6.4" height="11.20" fill="#f23645"/>
<line x1="854.68" y1="278.24" x2="854.68" y2="295.34" stroke="#f23645" stroke-width="1.05"/>
<rect x="851.48" y="288.07" width="6.4" height="3.93" fill="#f23645"/>
<line x1="862.22" y1="256.03" x2="862.22" y2="292.40" stroke="#089981" stroke-width="1.05"/>
<rect x="859.02" y="266.84" width="6.4" height="25.16" fill="#089981"/>
<line x1="869.75" y1="258.19" x2="869.75" y2="288.66" stroke="#f23645" stroke-width="1.05"/>
<rect x="866.55" y="266.84" width="6.4" height="16.71" fill="#f23645"/>
<line x1="877.28" y1="265.86" x2="877.28" y2="295.34" stroke="#089981" stroke-width="1.05"/>
<rect x="874.08" y="273.33" width="6.4" height="10.22" fill="#089981"/>
<line x1="884.81" y1="272.35" x2="884.81" y2="286.11" stroke="#f23645" stroke-width="1.05"/>
<rect x="881.61" y="273.33" width="6.4" height="9.43" fill="#f23645"/>
<line x1="892.34" y1="275.88" x2="892.34" y2="292.99" stroke="#089981" stroke-width="1.05"/>
<rect x="889.14" y="276.87" width="6.4" height="5.90" fill="#089981"/>
<line x1="899.88" y1="273.33" x2="899.88" y2="285.52" stroke="#f23645" stroke-width="1.05"/>
<rect x="896.68" y="277.26" width="6.4" height="6.88" fill="#f23645"/>
<line x1="907.41" y1="273.72" x2="907.41" y2="284.53" stroke="#089981" stroke-width="1.05"/>
<rect x="904.21" y="276.28" width="6.4" height="7.86" fill="#089981"/>
<line x1="914.94" y1="267.04" x2="914.94" y2="306.15" stroke="#f23645" stroke-width="1.05"/>
<rect x="911.74" y="276.28" width="6.4" height="23.00" fill="#f23645"/>
<line x1="922.47" y1="279.23" x2="922.47" y2="303.80" stroke="#089981" stroke-width="1.05"/>
<rect x="919.27" y="285.12" width="6.4" height="14.15" fill="#089981"/>
<line x1="930.00" y1="274.90" x2="930.00" y2="294.95" stroke="#089981" stroke-width="1.05"/>
<rect x="926.80" y="277.26" width="6.4" height="8.45" fill="#089981"/>
<line x1="937.54" y1="270.77" x2="937.54" y2="283.16" stroke="#f23645" stroke-width="1.05"/>
<rect x="934.34" y="277.26" width="6.4" height="4.91" fill="#f23645"/>
<line x1="945.07" y1="276.67" x2="945.07" y2="285.12" stroke="#089981" stroke-width="1.05"/>
<rect x="941.87" y="279.23" width="6.4" height="2.95" fill="#089981"/>
<line x1="952.60" y1="269.99" x2="952.60" y2="283.55" stroke="#f23645" stroke-width="1.05"/>
<rect x="949.40" y="279.23" width="6.4" height="1.57" fill="#f23645"/>
<line x1="960.13" y1="278.24" x2="960.13" y2="296.92" stroke="#f23645" stroke-width="1.05"/>
<rect x="956.93" y="280.21" width="6.4" height="13.37" fill="#f23645"/>
<line x1="967.66" y1="288.07" x2="967.66" y2="300.45" stroke="#f23645" stroke-width="1.05"/>
<rect x="964.46" y="292.59" width="6.4" height="7.27" fill="#f23645"/>
<line x1="975.20" y1="286.11" x2="975.20" y2="300.26" stroke="#089981" stroke-width="1.05"/>
<rect x="972.00" y="288.07" width="6.4" height="11.79" fill="#089981"/>
<line x1="982.73" y1="285.12" x2="982.73" y2="297.90" stroke="#f23645" stroke-width="1.05"/>
<rect x="979.53" y="288.07" width="6.4" height="5.90" fill="#f23645"/>
<line x1="990.26" y1="281.78" x2="990.26" y2="320.11" stroke="#f23645" stroke-width="1.05"/>
<rect x="987.06" y="293.57" width="6.4" height="18.08" fill="#f23645"/>
<line x1="997.79" y1="303.80" x2="997.79" y2="315.59" stroke="#f23645" stroke-width="1.05"/>
<rect x="994.59" y="310.28" width="6.4" height="1.38" fill="#f23645"/>
<line x1="1005.32" y1="307.73" x2="1005.32" y2="313.03" stroke="#089981" stroke-width="1.05"/>
<rect x="1002.12" y="308.71" width="6.4" height="2.56" fill="#089981"/>
<line x1="1012.86" y1="307.14" x2="1012.86" y2="321.49" stroke="#f23645" stroke-width="1.05"/>
<rect x="1009.66" y="308.71" width="6.4" height="10.42" fill="#f23645"/>
<line x1="1020.39" y1="314.21" x2="1020.39" y2="332.69" stroke="#f23645" stroke-width="1.05"/>
<rect x="1017.19" y="318.14" width="6.4" height="4.91" fill="#f23645"/>
<line x1="1027.92" y1="308.12" x2="1027.92" y2="329.35" stroke="#089981" stroke-width="1.05"/>
<rect x="1024.72" y="310.68" width="6.4" height="12.38" fill="#089981"/>
<line x1="1035.45" y1="288.64" x2="1035.45" y2="315.76" stroke="#089981" stroke-width="1.05"/>
<rect x="1032.25" y="290.21" width="6.4" height="21.62" fill="#089981"/>
<line x1="1042.98" y1="286.28" x2="1042.98" y2="308.88" stroke="#f23645" stroke-width="1.05"/>
<rect x="1039.78" y="290.21" width="6.4" height="18.28" fill="#f23645"/>
<line x1="1050.52" y1="291.58" x2="1050.52" y2="311.44" stroke="#089981" stroke-width="1.05"/>
<rect x="1047.32" y="296.11" width="6.4" height="12.78" fill="#089981"/>
<line x1="1058.05" y1="293.75" x2="1058.05" y2="300.04" stroke="#f23645" stroke-width="1.05"/>
<rect x="1054.85" y="296.70" width="6.4" height="1.38" fill="#f23645"/>
<line x1="1065.58" y1="294.14" x2="1065.58" y2="307.31" stroke="#f23645" stroke-width="1.05"/>
<rect x="1062.38" y="296.70" width="6.4" height="9.83" fill="#f23645"/>
<line x1="1073.11" y1="281.76" x2="1073.11" y2="314.78" stroke="#089981" stroke-width="1.05"/>
<rect x="1069.91" y="292.76" width="6.4" height="13.76" fill="#089981"/>
<line x1="1080.64" y1="288.64" x2="1080.64" y2="304.56" stroke="#f23645" stroke-width="1.05"/>
<rect x="1077.44" y="292.76" width="6.4" height="7.27" fill="#f23645"/>
<line x1="1088.18" y1="294.14" x2="1088.18" y2="309.47" stroke="#089981" stroke-width="1.05"/>
<rect x="1084.98" y="296.11" width="6.4" height="4.52" fill="#089981"/>
<line x1="1095.71" y1="294.14" x2="1095.71" y2="306.52" stroke="#f23645" stroke-width="1.05"/>
<rect x="1092.51" y="296.11" width="6.4" height="8.45" fill="#f23645"/>
<line x1="1103.24" y1="302.00" x2="1103.24" y2="320.68" stroke="#f23645" stroke-width="1.05"/>
<rect x="1100.04" y="303.57" width="6.4" height="11.20" fill="#f23645"/>
<line x1="1110.77" y1="312.81" x2="1110.77" y2="324.02" stroke="#f23645" stroke-width="1.05"/>
<rect x="1107.57" y="313.80" width="6.4" height="1.38" fill="#f23645"/>
<line x1="1118.30" y1="311.44" x2="1118.30" y2="318.32" stroke="#089981" stroke-width="1.05"/>
<rect x="1115.10" y="314.19" width="6.4" height="1.18" fill="#089981"/>
<line x1="1125.84" y1="311.83" x2="1125.84" y2="322.25" stroke="#089981" stroke-width="1.05"/>
<rect x="1122.64" y="313.80" width="6.4" height="1.38" fill="#089981"/>
<line x1="1133.37" y1="310.26" x2="1133.37" y2="320.68" stroke="#f23645" stroke-width="1.05"/>
<rect x="1130.17" y="313.80" width="6.4" height="3.54" fill="#f23645"/>
<line x1="1140.90" y1="307.51" x2="1140.90" y2="319.69" stroke="#089981" stroke-width="1.05"/>
<rect x="1137.70" y="308.88" width="6.4" height="8.45" fill="#089981"/>
<line x1="1148.43" y1="307.51" x2="1148.43" y2="319.10" stroke="#f23645" stroke-width="1.05"/>
<rect x="1145.23" y="309.28" width="6.4" height="7.08" fill="#f23645"/>
<line x1="1155.96" y1="311.44" x2="1155.96" y2="340.72" stroke="#089981" stroke-width="1.05"/>
<rect x="1152.76" y="314.78" width="6.4" height="1.38" fill="#089981"/>
<line x1="1163.50" y1="312.09" x2="1163.50" y2="324.86" stroke="#f23645" stroke-width="1.05"/>
<rect x="1160.30" y="315.04" width="6.4" height="4.91" fill="#f23645"/>
<line x1="1171.03" y1="315.04" x2="1171.03" y2="328.21" stroke="#f23645" stroke-width="1.05"/>
<rect x="1167.83" y="318.97" width="6.4" height="8.85" fill="#f23645"/>
<line x1="1178.56" y1="318.38" x2="1178.56" y2="334.30" stroke="#089981" stroke-width="1.05"/>
<rect x="1175.36" y="323.29" width="6.4" height="4.52" fill="#089981"/>
<line x1="1186.09" y1="308.55" x2="1186.09" y2="325.26" stroke="#089981" stroke-width="1.05"/>
<rect x="1182.89" y="312.09" width="6.4" height="11.79" fill="#089981"/>
<line x1="1193.62" y1="289.48" x2="1193.62" y2="320.93" stroke="#089981" stroke-width="1.05"/>
<rect x="1190.42" y="303.24" width="6.4" height="9.83" fill="#089981"/>
<line x1="1201.16" y1="293.81" x2="1201.16" y2="329.19" stroke="#f23645" stroke-width="1.05"/>
<rect x="1197.96" y="303.24" width="6.4" height="19.66" fill="#f23645"/>
<line x1="1208.69" y1="317.40" x2="1208.69" y2="336.66" stroke="#f23645" stroke-width="1.05"/>
<rect x="1205.49" y="322.51" width="6.4" height="1.57" fill="#f23645"/>
<line x1="1216.22" y1="318.38" x2="1216.22" y2="335.09" stroke="#f23645" stroke-width="1.05"/>
<rect x="1213.02" y="323.29" width="6.4" height="6.49" fill="#f23645"/>
<line x1="1223.75" y1="321.52" x2="1223.75" y2="347.08" stroke="#089981" stroke-width="1.05"/>
<rect x="1220.55" y="321.52" width="6.4" height="8.26" fill="#089981"/>
<line x1="1231.28" y1="312.09" x2="1231.28" y2="338.62" stroke="#089981" stroke-width="1.05"/>
<rect x="1228.08" y="320.93" width="6.4" height="1.57" fill="#089981"/>
<line x1="1238.82" y1="304.82" x2="1238.82" y2="328.80" stroke="#089981" stroke-width="1.05"/>
<rect x="1235.62" y="320.54" width="6.4" height="1.38" fill="#089981"/>
<line x1="1246.35" y1="317.00" x2="1246.35" y2="335.09" stroke="#f23645" stroke-width="1.05"/>
<rect x="1243.15" y="320.54" width="6.4" height="14.55" fill="#f23645"/>
<line x1="11.5" y1="334.84" x2="1465.8" y2="334.84" stroke="#f23645" stroke-opacity="0.6" stroke-width="1.8" stroke-dasharray="1.7 0.8"/>
</g>
<g clip-path="url(#cpRsi)">
<polyline fill="none" stroke="#7652bc" stroke-width="1.5" stroke-linejoin="round" points="11.1,569.6 18.6,564.0 26.2,554.6 33.7,550.4 41.2,547.9 48.8,536.9 56.3,537.3 63.8,531.0 71.4,561.9 78.9,568.1 86.4,566.5 94.0,574.0 101.5,568.1 109.0,573.3 116.5,577.5 124.1,574.8 131.6,586.9 139.1,599.4 146.7,602.5 154.2,588.3 161.7,584.8 169.3,582.1 176.8,596.2 184.3,589.0 191.9,581.2 199.4,588.3 206.9,576.0 214.5,580.6 222.0,592.7 229.5,586.9 237.1,587.3 244.6,601.0 252.1,595.2 259.7,550.4 267.2,565.0 274.7,583.3 282.3,588.3 289.8,625.4 297.3,652.5 304.8,612.5 312.4,616.5 319.9,624.4 327.4,632.1 335.0,610.4 342.5,604.2 350.0,609.8 357.6,606.0 365.1,605.2 372.6,604.6 380.2,615.6 387.7,612.9 395.2,605.0 402.8,600.8 410.3,586.9 417.8,582.7 425.4,591.0 432.9,590.6 440.4,596.2 448.0,589.0 455.5,581.0 463.0,589.6 470.6,590.4 478.1,598.3 485.6,595.8 493.1,595.8 500.7,593.8 508.2,601.5 515.7,589.4 523.3,594.6 530.8,597.7 538.3,603.5 545.9,594.2 553.4,584.4 560.9,596.2 568.5,605.0 576.0,629.6 583.5,624.4 591.1,628.5 598.6,637.3 606.1,622.9 613.7,626.0 621.2,618.8 628.7,611.2 636.3,614.6 643.8,620.8 651.3,590.6 658.9,588.3 666.4,602.5 673.9,616.5 681.4,612.3 689.0,618.5 696.5,619.2 704.0,603.5 711.6,608.8 719.1,602.9 726.6,614.6 734.2,604.0 741.7,604.0 749.2,601.9 756.8,594.8 764.3,591.7 771.8,558.1 779.4,555.6 786.9,543.1 794.4,533.3 802.0,553.5 809.5,552.5 817.0,550.8 824.6,567.1 832.1,547.9 839.6,530.2 847.2,546.9 854.7,552.1 862.2,531.7 869.7,554.6 877.3,547.9 884.8,558.3 892.3,554.6 899.9,562.3 907.4,556.2 914.9,583.1 922.5,570.2 930.0,562.9 937.5,567.1 945.1,565.0 952.6,566.7 960.1,583.3 967.7,592.5 975.2,577.5 982.7,585.8 990.3,604.6 997.8,604.6 1005.3,602.1 1012.9,611.9 1020.4,617.1 1027.9,598.3 1035.5,574.0 1043.0,594.2 1050.5,581.2 1058.0,582.3 1065.6,592.1 1073.1,577.5 1080.6,585.4 1088.2,581.2 1095.7,589.4 1103.2,602.5 1110.8,602.9 1118.3,602.9 1125.8,601.5 1133.4,605.2 1140.9,593.1 1148.4,601.5 1156.0,601.0 1163.5,607.3 1171.0,617.1 1178.6,610.8 1186.1,590.0 1193.6,575.4 1201.2,604.0 1208.7,605.0 1216.2,612.9 1223.8,599.0 1231.3,597.3 1238.8,597.3 1246.3,616.5"/>
<path d="M11.0,542.7C12.3,542.9 16.0,543.3 18.5,543.8C21.0,544.2 23.5,545.0 26.0,545.2C28.6,545.4 31.2,544.4 33.8,544.8C36.3,545.1 38.8,546.6 41.2,547.3C43.8,548.0 46.2,548.4 48.8,548.8C51.2,549.1 53.8,549.2 56.2,549.4C58.8,549.5 61.2,549.5 63.8,549.8C66.2,550.1 68.7,550.7 71.2,551.0C73.8,551.4 76.4,551.6 79.0,551.9C81.5,552.1 84.0,552.0 86.5,552.5C89.0,553.0 91.5,554.0 94.0,554.6C96.5,555.2 99.0,555.5 101.5,556.0C104.0,556.6 106.5,557.4 109.0,557.7C111.5,558.1 113.9,557.9 116.5,558.1C119.0,558.4 121.6,558.5 124.2,559.2C126.7,559.8 129.2,560.8 131.7,561.9C134.2,563.0 136.7,564.3 139.2,565.6C141.7,566.9 144.2,568.3 146.7,569.6C149.2,570.9 151.7,572.1 154.2,573.3C156.7,574.5 159.2,575.8 161.7,576.9C164.2,578.0 166.6,579.1 169.2,580.0C171.7,580.9 174.3,581.5 176.9,582.1C179.4,582.6 181.9,583.0 184.4,583.3C186.9,583.7 189.4,583.9 191.9,584.2C194.4,584.5 196.9,584.9 199.4,585.2C201.9,585.5 204.4,585.6 206.9,585.8C209.4,586.0 211.9,586.2 214.4,586.5C216.9,586.7 219.3,587.3 221.9,587.5C224.4,587.7 227.0,587.8 229.6,587.9C232.1,588.1 234.6,588.3 237.1,588.3C239.6,588.4 242.1,588.5 244.6,588.3C247.1,588.2 249.6,588.0 252.1,587.5C254.6,587.0 257.1,585.8 259.6,585.2C262.1,584.6 264.6,584.0 267.1,583.8C269.6,583.5 272.0,583.6 274.6,583.5C277.1,583.5 279.8,583.0 282.3,583.3C284.8,583.7 287.3,584.5 289.8,585.8C292.3,587.1 294.8,589.8 297.3,591.0C299.8,592.3 302.1,592.6 304.8,593.5C307.5,594.4 309.9,595.1 313.6,596.5C317.4,597.8 323.8,600.3 327.5,601.5C331.2,602.6 332.7,603.0 335.8,603.5C339.0,604.1 342.8,604.2 346.2,604.6C349.7,604.9 353.2,604.7 356.7,605.6C360.1,606.6 363.6,608.9 367.1,610.4C370.6,611.9 374.1,613.5 377.5,614.6C380.9,615.7 384.8,616.9 387.7,617.1C390.7,617.3 392.7,616.5 395.2,615.6C397.7,614.8 400.2,612.8 402.7,611.9C405.2,610.9 407.7,610.6 410.2,609.8C412.7,609.0 415.4,608.1 417.9,607.3C420.5,606.5 422.9,605.9 425.4,605.0C427.9,604.1 430.4,602.7 432.9,602.1C435.4,601.4 437.9,601.4 440.4,601.0C442.9,600.7 445.4,600.5 447.9,600.0C450.4,599.5 452.9,598.5 455.4,597.9C457.9,597.4 460.4,597.0 462.9,596.7C465.5,596.3 468.1,595.9 470.6,595.6C473.2,595.4 475.6,595.5 478.1,595.2C480.6,594.9 483.1,594.2 485.6,593.8C488.1,593.3 490.6,592.8 493.1,592.5C495.6,592.2 498.1,591.8 500.6,591.7C503.1,591.5 505.6,591.6 508.1,591.7C510.7,591.7 513.3,591.9 515.8,592.1C518.4,592.3 520.8,592.5 523.3,592.7C525.8,592.9 528.3,593.0 530.8,593.1C533.3,593.3 535.8,593.6 538.3,593.8C540.8,593.9 543.3,593.8 545.8,593.8C548.3,593.8 550.8,593.6 553.3,593.8C555.9,593.9 558.5,594.2 561.0,594.6C563.6,594.9 566.0,595.2 568.5,595.8C571.0,596.5 573.5,597.6 576.0,598.3C578.5,599.0 581.0,599.4 583.5,600.0C586.0,600.6 588.5,601.2 591.0,602.1C593.5,602.9 596.0,604.1 598.5,605.0C601.0,605.9 603.5,606.6 606.0,607.3C608.6,608.0 611.2,608.5 613.8,609.2C616.3,609.8 619.4,610.7 621.2,611.2C623.1,611.8 622.6,611.9 625.0,612.5C627.4,613.1 631.9,614.1 635.4,614.6C638.9,615.1 642.4,615.3 645.8,615.4C649.3,615.6 652.8,615.3 656.2,615.4C659.7,615.5 663.7,615.8 666.7,616.0C669.6,616.3 671.5,617.1 674.0,617.1C676.4,617.1 678.8,616.3 681.2,616.0C683.8,615.8 686.4,615.7 689.0,615.4C691.5,615.1 694.0,614.9 696.5,614.4C699.0,613.9 701.4,612.9 704.0,612.3C706.5,611.7 709.1,611.3 711.7,610.8C714.2,610.3 716.7,609.7 719.2,609.4C721.7,609.0 724.2,609.0 726.7,608.8C729.2,608.5 731.7,608.4 734.2,608.1C736.7,607.9 739.2,607.6 741.7,607.3C744.2,607.0 746.6,606.4 749.2,606.2C751.7,606.1 754.3,606.6 756.9,606.7C759.4,606.7 761.9,607.1 764.4,606.7C766.9,606.2 769.4,605.2 771.9,604.2C774.4,603.1 776.9,601.9 779.4,600.4C781.9,598.9 784.4,597.1 786.9,595.2C789.4,593.3 791.9,590.9 794.4,589.0C796.9,587.0 799.3,585.2 801.9,583.8C804.4,582.3 807.0,581.3 809.6,580.0C812.1,578.7 814.6,577.2 817.1,576.0C819.6,574.9 822.1,574.5 824.6,573.3C827.1,572.1 829.6,570.3 832.1,568.8C834.6,567.2 837.1,565.5 839.6,564.0C842.1,562.5 844.6,561.1 847.1,559.8C849.6,558.5 852.0,557.4 854.6,556.0C857.1,554.7 859.8,552.7 862.3,551.5C864.8,550.2 867.3,549.0 869.8,548.3C872.3,547.7 874.8,547.8 877.3,547.7C879.8,547.6 882.3,547.7 884.8,547.9C887.3,548.1 889.8,548.5 892.3,549.0C894.8,549.4 897.3,550.4 899.8,550.8C902.3,551.2 905.0,551.1 907.5,551.5C910.0,551.8 912.5,552.6 915.0,553.1C917.5,553.6 920.0,554.3 922.5,554.6C925.0,554.8 927.9,554.6 930.0,554.6C932.1,554.6 932.5,554.1 935.0,554.6C937.5,555.1 942.1,556.9 945.0,557.7C947.9,558.5 950.0,558.7 952.5,559.4C955.0,560.1 957.5,560.8 960.0,561.9C962.5,562.9 965.2,564.7 967.7,565.6C970.2,566.6 972.7,566.9 975.2,567.7C977.7,568.5 980.2,569.2 982.7,570.2C985.2,571.2 987.7,572.8 990.2,574.0C992.7,575.1 995.2,576.1 997.7,577.1C1000.2,578.1 1002.7,579.0 1005.2,580.0C1007.7,581.0 1010.2,582.3 1012.7,583.3C1015.2,584.4 1017.9,585.5 1020.4,586.2C1023.0,587.0 1025.4,587.4 1027.9,587.9C1030.4,588.5 1032.9,589.0 1035.4,589.6C1037.9,590.2 1040.4,590.9 1042.9,591.5C1045.4,592.0 1047.9,592.3 1050.4,592.7C1052.9,593.1 1055.4,593.5 1057.9,593.8C1060.5,594.0 1063.1,594.3 1065.6,594.2C1068.2,594.1 1070.6,593.2 1073.1,593.1C1075.6,593.1 1078.1,593.7 1080.6,593.8C1083.1,593.8 1085.6,593.7 1088.1,593.5C1090.6,593.4 1093.1,592.9 1095.6,592.7C1098.1,592.5 1100.6,592.5 1103.1,592.5C1105.6,592.5 1108.1,592.6 1110.6,592.5C1113.2,592.4 1115.8,592.4 1118.3,592.1C1120.9,591.8 1123.3,590.8 1125.8,590.6C1128.3,590.5 1130.8,590.7 1133.3,591.0C1135.8,591.4 1138.3,592.2 1140.8,592.5C1143.3,592.8 1145.8,592.7 1148.3,593.1C1150.8,593.5 1153.3,594.2 1155.8,594.8C1158.3,595.4 1160.8,596.1 1163.3,596.7C1165.9,597.3 1168.5,597.7 1171.0,598.3C1173.6,599.0 1176.0,600.1 1178.5,600.4C1181.0,600.8 1183.5,600.5 1186.0,600.4C1188.5,600.3 1191.0,599.9 1193.5,600.0C1196.0,600.1 1198.5,600.8 1201.0,601.0C1203.5,601.3 1206.0,601.3 1208.5,601.5C1211.1,601.6 1213.7,601.8 1216.2,601.9C1218.8,601.9 1221.2,601.9 1223.8,601.9C1226.2,601.8 1228.8,601.6 1231.2,601.5C1233.8,601.3 1236.2,600.7 1238.8,600.8C1241.2,601.0 1245.0,602.2 1246.2,602.5" fill="none" stroke="#dccb38" stroke-width="1.4" stroke-linejoin="round"/>
</g>
<rect x="11.5" y="28.5" width="1513.0" height="666.5" fill="none" stroke="#262a36" stroke-width="1.8"/>
<text x="10.90" y="21.10" font-size="12.9" fill="#d1d4dc" font-family="'Liberation Sans', 'DejaVu Sans', sans-serif" textLength="270.30" lengthAdjust="spacingAndGlyphs" stroke="#d1d4dc" stroke-width="0.45" stroke-linejoin="round">workwithshayan published on TradingView.com,</text>
<text x="286.20" y="21.10" font-size="12.9" fill="#d1d4dc" font-family="'Liberation Sans', 'DejaVu Sans', sans-serif" textLength="166.30" lengthAdjust="spacingAndGlyphs" stroke="#d1d4dc" stroke-width="0.45" stroke-linejoin="round">Mar 15, 2023 22:10 UTC+5:30</text>
<text x="19.30" y="50.00" font-size="13.8" fill="#b2b5be" font-family="'Liberation Sans', 'DejaVu Sans', sans-serif" textLength="166.90" lengthAdjust="spacingAndGlyphs" stroke="#b2b5be" stroke-width="0.45" stroke-linejoin="round">XRP / TetherUS, 1D, BINANCE</text>
<text x="194.40" y="50.00" font-size="13.8" fill="#b2b5be" font-family="'Liberation Sans', 'DejaVu Sans', sans-serif" textLength="7.80" lengthAdjust="spacingAndGlyphs" stroke="#b2b5be" stroke-width="0.45" stroke-linejoin="round">O</text>
<text x="203.10" y="50.00" font-size="13.8" fill="#e8384a" font-family="'Liberation Sans', 'DejaVu Sans', sans-serif" textLength="37.10" lengthAdjust="spacingAndGlyphs" stroke="#e8384a" stroke-width="0.45" stroke-linejoin="round">0.3724</text>
<text x="248.70" y="50.00" font-size="13.8" fill="#b2b5be" font-family="'Liberation Sans', 'DejaVu Sans', sans-serif" textLength="7.30" lengthAdjust="spacingAndGlyphs" stroke="#b2b5be" stroke-width="0.45" stroke-linejoin="round">H</text>
<text x="256.90" y="50.00" font-size="13.8" fill="#e8384a" font-family="'Liberation Sans', 'DejaVu Sans', sans-serif" textLength="37.50" lengthAdjust="spacingAndGlyphs" stroke="#e8384a" stroke-width="0.45" stroke-linejoin="round">0.3757</text>
<text x="302.70" y="50.00" font-size="13.8" fill="#b2b5be" font-family="'Liberation Sans', 'DejaVu Sans', sans-serif" textLength="5.80" lengthAdjust="spacingAndGlyphs" stroke="#b2b5be" stroke-width="0.45" stroke-linejoin="round">L</text>
<text x="309.40" y="50.00" font-size="13.8" fill="#e8384a" font-family="'Liberation Sans', 'DejaVu Sans', sans-serif" textLength="36.80" lengthAdjust="spacingAndGlyphs" stroke="#e8384a" stroke-width="0.45" stroke-linejoin="round">0.3573</text>
<text x="354.10" y="50.00" font-size="13.8" fill="#b2b5be" font-family="'Liberation Sans', 'DejaVu Sans', sans-serif" textLength="7.10" lengthAdjust="spacingAndGlyphs" stroke="#b2b5be" stroke-width="0.45" stroke-linejoin="round">C</text>
<text x="361.90" y="50.00" font-size="13.8" fill="#e8384a" font-family="'Liberation Sans', 'DejaVu Sans', sans-serif" textLength="37.50" lengthAdjust="spacingAndGlyphs" stroke="#e8384a" stroke-width="0.45" stroke-linejoin="round">0.3595</text>
<text x="408.10" y="50.00" font-size="13.8" fill="#e8384a" font-family="'Liberation Sans', 'DejaVu Sans', sans-serif" textLength="43.40" lengthAdjust="spacingAndGlyphs" stroke="#e8384a" stroke-width="0.45" stroke-linejoin="round">−0.0129</text>
<text x="456.90" y="50.00" font-size="13.8" fill="#e8384a" font-family="'Liberation Sans', 'DejaVu Sans', sans-serif" textLength="46.80" lengthAdjust="spacingAndGlyphs" stroke="#e8384a" stroke-width="0.45" stroke-linejoin="round">(−3.46%)</text>
<text x="19.30" y="67.90" font-size="13.8" fill="#b2b5be" font-family="'Liberation Sans', 'DejaVu Sans', sans-serif" textLength="113.70" lengthAdjust="spacingAndGlyphs" stroke="#b2b5be" stroke-width="0.45" stroke-linejoin="round">EMA 20/50/100/200</text>
<text x="141.50" y="67.90" font-size="13.8" fill="#e01018" font-family="'Liberation Sans', 'DejaVu Sans', sans-serif" textLength="37.20" lengthAdjust="spacingAndGlyphs" stroke="#e01018" stroke-width="0.45" stroke-linejoin="round">0.3748</text>
<text x="186.60" y="67.90" font-size="13.8" fill="#e07808" font-family="'Liberation Sans', 'DejaVu Sans', sans-serif" textLength="38.00" lengthAdjust="spacingAndGlyphs" stroke="#e07808" stroke-width="0.45" stroke-linejoin="round">0.3807</text>
<text x="231.90" y="67.90" font-size="13.8" fill="#05ccd0" font-family="'Liberation Sans', 'DejaVu Sans', sans-serif" textLength="37.80" lengthAdjust="spacingAndGlyphs" stroke="#05ccd0" stroke-width="0.45" stroke-linejoin="round">0.3853</text>
<text x="277.70" y="67.90" font-size="13.8" fill="#0c0cd0" font-family="'Liberation Sans', 'DejaVu Sans', sans-serif" textLength="37.90" lengthAdjust="spacingAndGlyphs" stroke="#0c0cd0" stroke-width="0.45" stroke-linejoin="round">0.4060</text>
<text x="19.20" y="534.80" font-size="13.8" fill="#b2b5be" font-family="'Liberation Sans', 'DejaVu Sans', sans-serif" textLength="149.30" lengthAdjust="spacingAndGlyphs" stroke="#b2b5be" stroke-width="0.45" stroke-linejoin="round">RSI (14, close, SMA, 14, 2)</text>
<text x="176.30" y="534.80" font-size="13.8" fill="#7e57c2" font-family="'Liberation Sans', 'DejaVu Sans', sans-serif" textLength="29.70" lengthAdjust="spacingAndGlyphs" stroke="#7e57c2" stroke-width="0.45" stroke-linejoin="round">39.41</text>
<text x="215.00" y="534.80" font-size="13.8" fill="#f5e23b" font-family="'Liberation Sans', 'DejaVu Sans', sans-serif" textLength="31.30" lengthAdjust="spacingAndGlyphs" font-weight="bold" stroke="#f5e23b" stroke-width="0.45" stroke-linejoin="round">44.29</text>
<text x="254.00" y="534.80" font-size="12.5" fill="#b2b5be" font-family="'Liberation Sans', 'DejaVu Sans', sans-serif" textLength="7.30" lengthAdjust="spacingAndGlyphs" stroke="#b2b5be" stroke-width="0.45" stroke-linejoin="round">∅</text>
<text x="270.30" y="534.80" font-size="12.5" fill="#b2b5be" font-family="'Liberation Sans', 'DejaVu Sans', sans-serif" textLength="7.30" lengthAdjust="spacingAndGlyphs" stroke="#b2b5be" stroke-width="0.45" stroke-linejoin="round">∅</text>
<text x="1475.60" y="48.00" font-size="13.4" fill="#b2b5be" font-family="'Liberation Sans', 'DejaVu Sans', sans-serif" textLength="29.70" lengthAdjust="spacingAndGlyphs" stroke="#b2b5be" stroke-width="0.45" stroke-linejoin="round">USDT</text>
<text x="1476.70" y="85.12" font-size="14.0" fill="#b2b5be" font-family="'Liberation Sans', 'DejaVu Sans', sans-serif" textLength="37.90" lengthAdjust="spacingAndGlyphs" stroke="#b2b5be" stroke-width="0.45" stroke-linejoin="round">0.6000</text>
<text x="1476.70" y="137.90" font-size="14.0" fill="#b2b5be" font-family="'Liberation Sans', 'DejaVu Sans', sans-serif" textLength="37.90" lengthAdjust="spacingAndGlyphs" stroke="#b2b5be" stroke-width="0.45" stroke-linejoin="round">0.5500</text>
<text x="1476.70" y="190.68" font-size="14.0" fill="#b2b5be" font-family="'Liberation Sans', 'DejaVu Sans', sans-serif" textLength="37.90" lengthAdjust="spacingAndGlyphs" stroke="#b2b5be" stroke-width="0.45" stroke-linejoin="round">0.5000</text>
<text x="1476.70" y="243.46" font-size="14.0" fill="#b2b5be" font-family="'Liberation Sans', 'DejaVu Sans', sans-serif" textLength="37.90" lengthAdjust="spacingAndGlyphs" stroke="#b2b5be" stroke-width="0.45" stroke-linejoin="round">0.4500</text>
<text x="1476.70" y="454.58" font-size="14.0" fill="#b2b5be" font-family="'Liberation Sans', 'DejaVu Sans', sans-serif" textLength="37.90" lengthAdjust="spacingAndGlyphs" stroke="#b2b5be" stroke-width="0.45" stroke-linejoin="round">0.2500</text>
<text x="1476.70" y="507.36" font-size="14.0" fill="#b2b5be" font-family="'Liberation Sans', 'DejaVu Sans', sans-serif" textLength="37.90" lengthAdjust="spacingAndGlyphs" stroke="#b2b5be" stroke-width="0.45" stroke-linejoin="round">0.2000</text>
<text x="1476.60" y="562.20" font-size="14.0" fill="#b2b5be" font-family="'Liberation Sans', 'DejaVu Sans', sans-serif" textLength="31.40" lengthAdjust="spacingAndGlyphs" stroke="#b2b5be" stroke-width="0.45" stroke-linejoin="round">60.00</text>
<rect x="1464.6" y="234.30" width="57.20" height="19.30" rx="2" fill="#131722" fill-opacity="0.9"/>
<path d="M1465.4,235.00H1519.00a2,2 0 0 1 2,2V250.90a2,2 0 0 1 -2,2H1465.4Z" fill="#0000ff"/>
<text x="1476.70" y="248.90" font-size="14.0" fill="#f0f0ff" font-family="'Liberation Sans', 'DejaVu Sans', sans-serif" textLength="37.90" lengthAdjust="spacingAndGlyphs" stroke="#f0f0ff" stroke-width="0.45" stroke-linejoin="round">0.4060</text>
<rect x="1464.6" y="252.80" width="57.20" height="19.20" rx="2" fill="#131722" fill-opacity="0.9"/>
<path d="M1465.4,253.50H1519.00a2,2 0 0 1 2,2V269.30a2,2 0 0 1 -2,2H1465.4Z" fill="#f23645"/>
<text x="1476.70" y="267.35" font-size="14.0" fill="#ffffff" font-family="'Liberation Sans', 'DejaVu Sans', sans-serif" textLength="37.90" lengthAdjust="spacingAndGlyphs" stroke="#ffffff" stroke-width="0.45" stroke-linejoin="round">0.4028</text>
<rect x="1464.6" y="271.10" width="57.20" height="19.10" rx="2" fill="#131722" fill-opacity="0.9"/>
<path d="M1465.4,271.80H1519.00a2,2 0 0 1 2,2V287.50a2,2 0 0 1 -2,2H1465.4Z" fill="#00ffff"/>
<text x="1476.70" y="285.60" font-size="14.0" fill="#0a2030" font-family="'Liberation Sans', 'DejaVu Sans', sans-serif" textLength="37.90" lengthAdjust="spacingAndGlyphs" stroke="#0a2030" stroke-width="0.45" stroke-linejoin="round">0.3853</text>
<rect x="1464.6" y="289.30" width="57.20" height="18.60" rx="2" fill="#131722" fill-opacity="0.9"/>
<path d="M1465.4,290.00H1519.00a2,2 0 0 1 2,2V305.20a2,2 0 0 1 -2,2H1465.4Z" fill="#ff8000"/>
<text x="1476.70" y="303.55" font-size="14.0" fill="#ffffff" font-family="'Liberation Sans', 'DejaVu Sans', sans-serif" textLength="37.90" lengthAdjust="spacingAndGlyphs" stroke="#ffffff" stroke-width="0.45" stroke-linejoin="round">0.3807</text>
<rect x="1464.6" y="307.10" width="57.20" height="18.80" rx="2" fill="#131722" fill-opacity="0.9"/>
<path d="M1465.4,307.80H1519.00a2,2 0 0 1 2,2V323.20a2,2 0 0 1 -2,2H1465.4Z" fill="#ff0000"/>
<text x="1476.70" y="321.45" font-size="14.0" fill="#ffffff" font-family="'Liberation Sans', 'DejaVu Sans', sans-serif" textLength="37.90" lengthAdjust="spacingAndGlyphs" stroke="#ffffff" stroke-width="0.45" stroke-linejoin="round">0.3748</text>
<rect x="1464.6" y="325.30" width="57.20" height="18.80" rx="2" fill="#131722" fill-opacity="0.9"/>
<path d="M1465.4,326.00H1519.00a2,2 0 0 1 2,2V341.40a2,2 0 0 1 -2,2H1465.4Z" fill="#f23645"/>
<text x="1476.70" y="339.65" font-size="14.0" fill="#ffffff" font-family="'Liberation Sans', 'DejaVu Sans', sans-serif" textLength="37.90" lengthAdjust="spacingAndGlyphs" stroke="#ffffff" stroke-width="0.45" stroke-linejoin="round">0.3595</text>
<rect x="1464.6" y="343.40" width="57.20" height="18.90" rx="2" fill="#131722" fill-opacity="0.9"/>
<path d="M1465.4,344.10H1519.00a2,2 0 0 1 2,2V359.60a2,2 0 0 1 -2,2H1465.4Z" fill="#787b86"/>
<text x="1476.70" y="357.80" font-size="14.0" fill="#ffffff" font-family="'Liberation Sans', 'DejaVu Sans', sans-serif" textLength="37.90" lengthAdjust="spacingAndGlyphs" stroke="#ffffff" stroke-width="0.45" stroke-linejoin="round">0.3530</text>
<rect x="1464.6" y="384.20" width="57.20" height="19.30" rx="2" fill="#131722" fill-opacity="0.9"/>
<path d="M1465.4,384.90H1519.00a2,2 0 0 1 2,2V400.80a2,2 0 0 1 -2,2H1465.4Z" fill="#089981"/>
<text x="1476.70" y="398.80" font-size="14.0" fill="#e8fff8" font-family="'Liberation Sans', 'DejaVu Sans', sans-serif" textLength="37.90" lengthAdjust="spacingAndGlyphs" stroke="#e8fff8" stroke-width="0.45" stroke-linejoin="round">0.3032</text>
<rect x="1464.6" y="589.10" width="51.20" height="19.40" rx="2" fill="#131722" fill-opacity="0.9"/>
<path d="M1465.4,589.80H1513.00a2,2 0 0 1 2,2V605.80a2,2 0 0 1 -2,2H1465.4Z" fill="#ffeb3b"/>
<text x="1476.90" y="603.75" font-size="14.0" fill="#20201a" font-family="'Liberation Sans', 'DejaVu Sans', sans-serif" textLength="30.70" lengthAdjust="spacingAndGlyphs" stroke="#20201a" stroke-width="0.45" stroke-linejoin="round">44.29</text>
<rect x="1464.6" y="607.90" width="51.20" height="19.20" rx="2" fill="#131722" fill-opacity="0.9"/>
<path d="M1465.4,608.60H1513.00a2,2 0 0 1 2,2V624.40a2,2 0 0 1 -2,2H1465.4Z" fill="#7e57c2"/>
<text x="1476.90" y="622.45" font-size="14.0" fill="#ffffff" font-family="'Liberation Sans', 'DejaVu Sans', sans-serif" textLength="30.70" lengthAdjust="spacingAndGlyphs" stroke="#ffffff" stroke-width="0.45" stroke-linejoin="round">39.41</text>
<text x="117.80" y="686.10" font-size="14.0" fill="#b2b5be" font-family="'Liberation Sans', 'DejaVu Sans', sans-serif" textLength="12.60" lengthAdjust="spacingAndGlyphs" stroke="#b2b5be" stroke-width="0.45" stroke-linejoin="round">17</text>
<text x="226.20" y="686.10" font-size="14.0" fill="#b2b5be" font-family="'Liberation Sans', 'DejaVu Sans', sans-serif" textLength="21.80" lengthAdjust="spacingAndGlyphs" stroke="#b2b5be" stroke-width="0.45" stroke-linejoin="round">Nov</text>
<text x="328.75" y="686.10" font-size="14.0" fill="#b2b5be" font-family="'Liberation Sans', 'DejaVu Sans', sans-serif" textLength="12.50" lengthAdjust="spacingAndGlyphs" stroke="#b2b5be" stroke-width="0.45" stroke-linejoin="round">14</text>
<text x="452.55" y="686.10" font-size="14.0" fill="#b2b5be" font-family="'Liberation Sans', 'DejaVu Sans', sans-serif" textLength="20.70" lengthAdjust="spacingAndGlyphs" stroke="#b2b5be" stroke-width="0.45" stroke-linejoin="round">Dec</text>
<text x="592.00" y="686.10" font-size="14.0" fill="#b2b5be" font-family="'Liberation Sans', 'DejaVu Sans', sans-serif" textLength="13.00" lengthAdjust="spacingAndGlyphs" stroke="#b2b5be" stroke-width="0.45" stroke-linejoin="round">19</text>
<text x="681.70" y="686.10" font-size="14.0" fill="#b2b5be" font-family="'Liberation Sans', 'DejaVu Sans', sans-serif" textLength="28.80" lengthAdjust="spacingAndGlyphs" font-weight="bold" stroke="#b2b5be" stroke-width="0.45" stroke-linejoin="round">2023</text>
<text x="803.00" y="686.10" font-size="14.0" fill="#b2b5be" font-family="'Liberation Sans', 'DejaVu Sans', sans-serif" textLength="13.20" lengthAdjust="spacingAndGlyphs" stroke="#b2b5be" stroke-width="0.45" stroke-linejoin="round">16</text>
<text x="919.45" y="686.10" font-size="14.0" fill="#b2b5be" font-family="'Liberation Sans', 'DejaVu Sans', sans-serif" textLength="20.50" lengthAdjust="spacingAndGlyphs" stroke="#b2b5be" stroke-width="0.45" stroke-linejoin="round">Feb</text>
<text x="1013.75" y="686.10" font-size="14.0" fill="#b2b5be" font-family="'Liberation Sans', 'DejaVu Sans', sans-serif" textLength="12.50" lengthAdjust="spacingAndGlyphs" stroke="#b2b5be" stroke-width="0.45" stroke-linejoin="round">13</text>
<text x="1129.50" y="686.10" font-size="14.0" fill="#b2b5be" font-family="'Liberation Sans', 'DejaVu Sans', sans-serif" textLength="21.20" lengthAdjust="spacingAndGlyphs" stroke="#b2b5be" stroke-width="0.45" stroke-linejoin="round">Mar</text>
<text x="1224.50" y="686.10" font-size="14.0" fill="#b2b5be" font-family="'Liberation Sans', 'DejaVu Sans', sans-serif" textLength="13.00" lengthAdjust="spacingAndGlyphs" stroke="#b2b5be" stroke-width="0.45" stroke-linejoin="round">13</text>
<text x="1364.45" y="686.10" font-size="14.0" fill="#b2b5be" font-family="'Liberation Sans', 'DejaVu Sans', sans-serif" textLength="19.70" lengthAdjust="spacingAndGlyphs" stroke="#b2b5be" stroke-width="0.45" stroke-linejoin="round">Apr</text>
<g transform="translate(10.8,706.85) scale(0.5887)" fill="#d1d4dc"><path d="M15 22H6.5V11.5H0V4h15v18z"/><circle cx="20" cy="8" r="4"/><path d="M28 22h-8l7.5-18h8L28 22z"/></g>
<text x="35.90" y="719.60" font-size="13.5" fill="#d1d4dc" font-family="'Liberation Sans', 'DejaVu Sans', sans-serif" textLength="73.90" lengthAdjust="spacingAndGlyphs" stroke="#d1d4dc" stroke-width="0.7" stroke-linejoin="round">TradingView</text>
</svg>
</body></html>
